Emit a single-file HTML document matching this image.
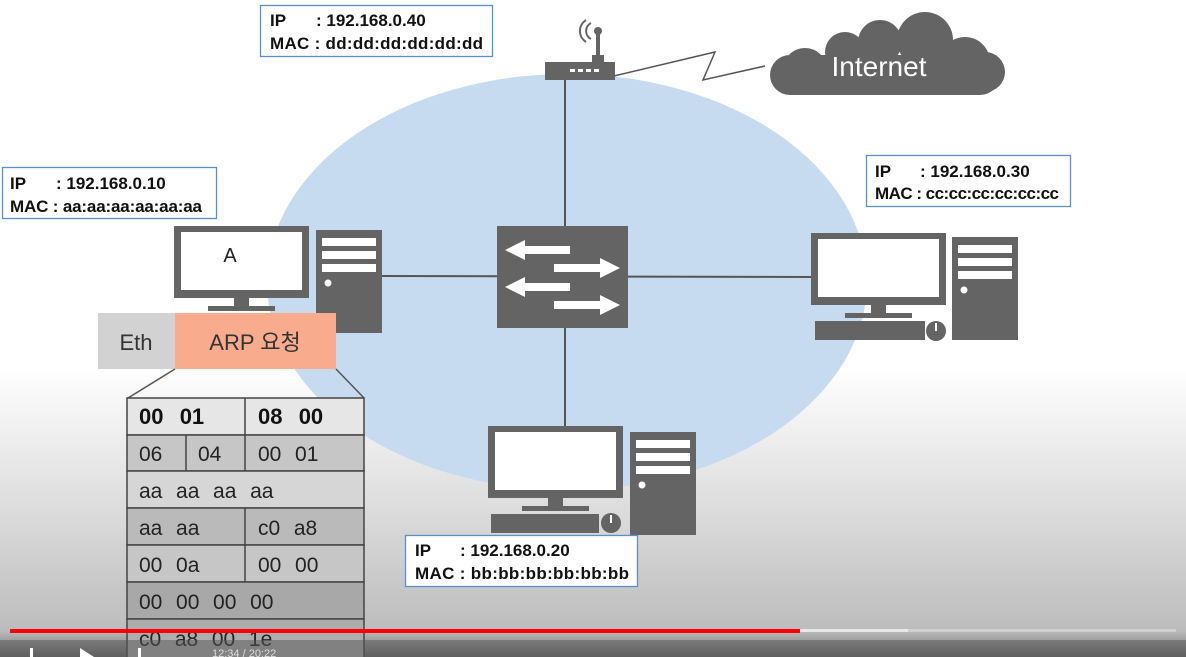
<!DOCTYPE html>
<html><head><meta charset="utf-8"><style>
html,body{margin:0;padding:0;width:1186px;height:657px;overflow:hidden}
svg{display:block}
text{font-family:"Liberation Sans","Noto Sans CJK KR",sans-serif}
.lb{font-size:17px;font-weight:bold;fill:#111}
.tb{font-size:21px;fill:#222;word-spacing:1px}
</style></head><body>
<svg width="1186" height="657" viewBox="0 0 1186 657">
<defs>
<linearGradient id="bg" x1="0" y1="0" x2="0" y2="1">
<stop offset="0" stop-color="#ffffff"/><stop offset="0.56" stop-color="#ffffff"/>
<stop offset="0.8" stop-color="#d8d8d8"/><stop offset="0.96" stop-color="#bcbcbc"/><stop offset="1" stop-color="#6a6a6a"/>
</linearGradient>
<g id="mon">
<rect x="0" y="0" width="135" height="72" fill="#646464"/>
<rect x="7" y="6" width="121" height="58" fill="#fff"/>
<rect x="60" y="72" width="15" height="9" fill="#646464"/>
<rect x="34" y="80" width="67" height="5" fill="#646464"/>
</g>
<g id="tow">
<rect x="0" y="0" width="66" height="103" fill="#646464"/>
<rect x="6" y="8" width="54" height="8" fill="#fff"/>
<rect x="6" y="21" width="54" height="8" fill="#fff"/>
<rect x="6" y="34" width="54" height="8" fill="#fff"/>
<circle cx="12" cy="53" r="3.5" fill="#fff"/>
</g>
</defs>
<rect width="1186" height="657" fill="url(#bg)"/>
<ellipse cx="567" cy="282" rx="300" ry="208" fill="#c6dbef"/>
<line x1="565" y1="78" x2="565" y2="428" stroke="#555" stroke-width="2"/>
<line x1="381" y1="276" x2="811" y2="277" stroke="#555" stroke-width="2"/>
<polyline points="614,76 715,52 703,80 765,66" fill="none" stroke="#555" stroke-width="1.5"/>
<rect x="545" y="62" width="70" height="18" fill="#646464"/>
<rect x="570" y="69" width="5" height="3" fill="#fff"/><rect x="578" y="69" width="5" height="3" fill="#fff"/><rect x="586" y="69" width="5" height="3" fill="#fff"/><rect x="594" y="69" width="5" height="3" fill="#fff"/>
<rect x="592" y="55" width="12" height="7" fill="#646464"/>
<rect x="596" y="30" width="4" height="27" fill="#646464"/>
<circle cx="598" cy="31" r="4" fill="#646464"/>
<path d="M591,23 a9,9 0 0 0 0,16 M586,20 a13,13 0 0 0 0,22" fill="none" stroke="#646464" stroke-width="2"/>
<g fill="#646464">
<rect x="770" y="55" width="230" height="40" rx="20"/>
<circle cx="805" cy="70" r="22"/><circle cx="845" cy="52" r="20"/><circle cx="880" cy="42" r="22"/><circle cx="925" cy="40" r="28"/><circle cx="965" cy="62" r="25"/><circle cx="985" cy="72" r="20"/>
</g>
<text x="879" y="76" text-anchor="middle" font-size="28" fill="#fff">Internet</text>
<rect x="497" y="226" width="131" height="102" fill="#646464"/>
<g fill="#fff">
<polygon points="505,250 525,240 525,246 570,246 570,254 525,254 525,260"/>
<polygon points="620,268 600,258 600,264 554,264 554,272 600,272 600,278"/>
<polygon points="505,287 525,277 525,283 570,283 570,291 525,291 525,297"/>
<polygon points="620,305 600,295 600,301 554,301 554,309 600,309 600,315"/>
</g>
<use href="#mon" x="174" y="226"/><use href="#tow" x="316" y="230"/>
<text x="230" y="262" font-size="20" fill="#222" text-anchor="middle">A</text>
<use href="#mon" x="811" y="233"/><use href="#tow" x="952" y="237"/>
<rect x="815" y="321" width="110" height="19" fill="#646464"/><circle cx="936" cy="331" r="10" fill="#646464"/><line x1="936" y1="323" x2="936" y2="331" stroke="#fff" stroke-width="2"/>
<use href="#mon" x="488" y="426"/><use href="#tow" x="630" y="432"/>
<rect x="491" y="514" width="108" height="19" fill="#646464"/><circle cx="611" cy="523" r="10" fill="#646464"/><line x1="611" y1="515" x2="611" y2="523" stroke="#fff" stroke-width="2"/>
<g fill="#fff" stroke="#5b8fc9" stroke-width="1.3">
<rect x="260.5" y="5.5" width="232" height="51"/>
<rect x="2.5" y="167.5" width="214" height="51"/>
<rect x="866.5" y="155.5" width="204" height="51"/>
<rect x="405.5" y="535.5" width="232" height="51"/>
</g>
<text class="lb" x="270" y="26">IP</text><text class="lb" x="316" y="26">: 192.168.0.40</text>
<text class="lb" x="270" y="49" textLength="213">MAC : dd:dd:dd:dd:dd:dd</text>
<text class="lb" x="10" y="189">IP</text><text class="lb" x="56" y="189">: 192.168.0.10</text>
<text class="lb" x="10" y="212" textLength="192">MAC : aa:aa:aa:aa:aa:aa</text>
<text class="lb" x="875" y="177">IP</text><text class="lb" x="920" y="177">: 192.168.0.30</text>
<text class="lb" x="875" y="199" textLength="184">MAC : cc:cc:cc:cc:cc:cc</text>
<text class="lb" x="415" y="556">IP</text><text class="lb" x="460" y="556">: 192.168.0.20</text>
<text class="lb" x="415" y="579" textLength="214">MAC : bb:bb:bb:bb:bb:bb</text>
<rect x="98" y="313" width="77" height="56" fill="#d2d2d2"/>
<rect x="175" y="313" width="161" height="56" fill="#f8ab8d"/>
<text x="136" y="350" font-size="22" fill="#333" text-anchor="middle">Eth</text>
<text x="255" y="350" font-size="22" fill="#333" text-anchor="middle">ARP 요청</text>
<line x1="175" y1="369" x2="128" y2="398" stroke="#555" stroke-width="1.5"/>
<line x1="336" y1="369" x2="364" y2="398" stroke="#555" stroke-width="1.5"/>
<g stroke="#444" stroke-width="1.5">
<rect x="127" y="398" width="237" height="37" fill="#e6e6e6"/>
<rect x="127" y="435" width="237" height="36" fill="#c6c6c6"/>
<rect x="127" y="471" width="237" height="37" fill="#d6d6d6"/>
<rect x="127" y="508" width="237" height="37" fill="#bababa"/>
<rect x="127" y="545" width="237" height="37" fill="#c6c6c6"/>
<rect x="127" y="582" width="237" height="37" fill="#a8a8a8"/>
<rect x="127" y="619" width="237" height="40" fill="#acacac"/>
<line x1="245" y1="398" x2="245" y2="471"/><line x1="186" y1="435" x2="186" y2="471"/>
<line x1="245" y1="508" x2="245" y2="582"/>
</g>
<text x="139" y="424" font-size="22" font-weight="bold" fill="#111" word-spacing="2">00&#160;&#160;01</text>
<text x="258" y="424" font-size="22" font-weight="bold" fill="#111" word-spacing="2">08&#160;&#160;00</text>
<text class="tb" x="139" y="461">06</text><text class="tb" x="198" y="461">04</text><text class="tb" x="258" y="461">00&#160;&#160;01</text>
<text class="tb" x="139" y="498">aa&#160;&#160;aa&#160;&#160;aa&#160;&#160;aa</text>
<text class="tb" x="139" y="535">aa&#160;&#160;aa</text><text class="tb" x="258" y="535">c0&#160;&#160;a8</text>
<text class="tb" x="139" y="572">00&#160;&#160;0a</text><text class="tb" x="258" y="572">00&#160;&#160;00</text>
<text class="tb" x="139" y="609">00&#160;&#160;00&#160;&#160;00&#160;&#160;00</text>
<text class="tb" x="139" y="646">c0&#160;&#160;a8&#160;&#160;00&#160;&#160;1e</text>
<rect x="0" y="640" width="1186" height="17" fill="#555" opacity="0.5"/>
<rect x="10" y="629" width="1166" height="3" fill="#d8d8d8" opacity="0.7"/>
<rect x="800" y="629" width="108" height="3" fill="#e8e8e8"/>
<rect x="10" y="629" width="790" height="4" fill="#ff0000"/>
<g fill="#fff"><polygon points="80,648 94,657 80,657"/><rect x="30" y="648" width="3" height="9"/><rect x="138" y="648" width="3" height="9"/></g>
<text x="212" y="657" font-size="11" fill="#ddd">12:34 / 20:22</text>
</svg>
</body></html>
